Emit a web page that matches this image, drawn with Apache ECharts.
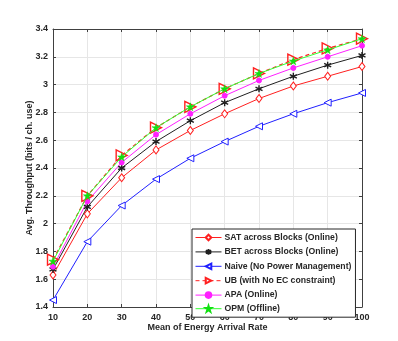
<!DOCTYPE html>
<html>
<head>
<meta charset="utf-8">
<script src="https://cdn.jsdelivr.net/npm/echarts@6/dist/echarts.min.js"></script>
<style>
  html, body { margin: 0; padding: 0; background: #fff; }
  #chart { width: 398px; height: 341px; }
</style>
</head>
<body>
<div id="chart"></div>
<script>
const rates = [10, 20, 30, 40, 50, 60, 70, 80, 90, 100];

const satValues = [1.63, 2.07, 2.33, 2.53, 2.67, 2.79, 2.90, 2.99, 3.06, 3.13];
const betValues = [1.67, 2.12, 2.40, 2.59, 2.74, 2.87, 2.97, 3.06, 3.14, 3.21];
const naiveValues = [1.45, 1.87, 2.13, 2.32, 2.47, 2.59, 2.70, 2.79, 2.87, 2.94];
const ubValues = [1.74, 2.20, 2.49, 2.69, 2.84, 2.97, 3.08, 3.18, 3.26, 3.33];
const apaValues = [1.69, 2.16, 2.44, 2.64, 2.79, 2.92, 3.03, 3.12, 3.20, 3.28];
const opmValues = [1.73, 2.20, 2.48, 2.69, 2.84, 2.97, 3.08, 3.17, 3.25, 3.33];

const seriesNames = [
    "SAT across Blocks (Online)",
    "BET across Blocks (Online)",
    "Naive (No Power Management)",
    "UB (with No EC constraint)",
    "APA (Online)",
    "OPM (Offline)",
];

const FONT = "'Liberation Sans', Arial, sans-serif";
const AXIS_COLOR = "#404040";

const ASTERISK = "path://M5,0L5,10M0.7,2.5L9.3,7.5M0.7,7.5L9.3,2.5";
const STAR = "path://M5,0L6.2,3.6L10,3.6L6.9,5.8L8.1,9.5L5,7.2L1.9,9.5L3.1,5.8L0,3.6L3.8,3.6Z";

function pairs(values) {
    return values.map((v, i) => [rates[i], v]);
}

function makeSeries(name, values, color, opts) {
    return Object.assign({
        name,
        type: "line",
        data: pairs(values),
        lineStyle: { color, width: 1 },
        itemStyle: { color: "#fff", borderColor: color, borderWidth: 1 },
        showAllSymbol: true,
        animation: false,
        z: 3,
    }, opts);
}

const series = [
    makeSeries(seriesNames[0], satValues, "#ff2020", {
        symbol: "diamond", symbolSize: [6, 8],
    }),
    makeSeries(seriesNames[1], betValues, "#202020", {
        symbol: ASTERISK, symbolSize: 7,
        itemStyle: { color: "none", borderColor: "#202020", borderWidth: 1.4 },
    }),
    makeSeries(seriesNames[2], naiveValues, "#2020ff", {
        symbol: "triangle", symbolRotate: 90, symbolSize: 7,
    }),
    makeSeries(seriesNames[3], ubValues, "#ff2020", {
        symbol: "triangle", symbolRotate: -90, symbolSize: 11,
        lineStyle: { color: "#ff2020", width: 1.2, type: [4, 3] },
        itemStyle: { color: "none", borderColor: "#ff2020", borderWidth: 1.4 },
        z: 4,
    }),
    makeSeries(seriesNames[4], apaValues, "#ff20ff", {
        symbol: "circle", symbolSize: 5,
        itemStyle: { color: "#ff20ff", borderColor: "#ff20ff", borderWidth: 1 },
    }),
    makeSeries(seriesNames[5], opmValues, "#30ff30", {
        symbol: STAR, symbolSize: 8,
        itemStyle: { color: "#10e010", borderColor: "#10e010", borderWidth: 0.5 },
        z: 5,
    }),
];

const chart = echarts.init(document.getElementById("chart"));

const tickLabel = { color: "#262626", fontSize: 9, fontFamily: FONT, fontWeight: "bold" };

chart.setOption({
    backgroundColor: "#fff",
    animation: false,
    grid: { left: 53, right: 36, top: 29, bottom: 34 },
    legend: {
        data: seriesNames,
        orient: "vertical",
        left: 192,
        top: 229,
        itemWidth: 26,
        itemHeight: 7,
        itemGap: 4.6,
        padding: [4, 4, 4, 3],
        backgroundColor: "#fff",
        borderColor: "#262626",
        borderWidth: 1,
        borderRadius: 0,
        lineStyle: { width: 1 },
        textStyle: { color: "#262626", fontSize: 8.7, fontFamily: FONT, fontWeight: "bold", padding: [0, 0, 0, -2] },
    },
    xAxis: [
        {
            type: "value",
            min: 10,
            max: 100,
            interval: 10,
            name: "Mean of Energy Arrival Rate",
            nameLocation: "middle",
            nameGap: 16,
            nameMoveOverlap: false,
            nameTextStyle: { color: "#262626", fontSize: 9, fontFamily: FONT, fontWeight: "bold" },
            axisLine: { show: true, lineStyle: { color: AXIS_COLOR, width: 1 } },
            axisTick: { show: true, inside: true, length: 3, lineStyle: { color: AXIS_COLOR } },
            axisLabel: Object.assign({ margin: 6 }, tickLabel),
            splitLine: { show: true, lineStyle: { color: "#e6e6e6", width: 1 } },
        },
        {
            type: "value",
            position: "top",
            min: 10,
            max: 100,
            interval: 10,
            axisLine: { show: true, lineStyle: { color: AXIS_COLOR, width: 1 } },
            axisTick: { show: true, inside: true, length: 3, lineStyle: { color: AXIS_COLOR } },
            axisLabel: { show: false },
            splitLine: { show: false },
        },
    ],
    yAxis: [
        {
            type: "value",
            min: 1.4,
            max: 3.4,
            interval: 0.2,
            name: "Avg. Throughput (bits / ch. use)",
            nameLocation: "middle",
            nameGap: 19,
            nameMoveOverlap: false,
            nameTextStyle: { color: "#262626", fontSize: 9, fontFamily: FONT, fontWeight: "bold" },
            axisLine: { show: true, lineStyle: { color: AXIS_COLOR, width: 1 } },
            axisTick: { show: true, inside: true, length: 3, lineStyle: { color: AXIS_COLOR } },
            axisLabel: Object.assign({
                margin: 5,
                formatter: (v) => String(Math.round(v * 10) / 10),
            }, tickLabel),
            splitLine: { show: true, lineStyle: { color: "#e6e6e6", width: 1 } },
        },
        {
            type: "value",
            position: "right",
            min: 1.4,
            max: 3.4,
            interval: 0.2,
            axisLine: { show: true, lineStyle: { color: AXIS_COLOR, width: 1 } },
            axisTick: { show: true, inside: true, length: 3, lineStyle: { color: AXIS_COLOR } },
            axisLabel: { show: false },
            splitLine: { show: false },
        },
    ],
    series,
});
</script>
</body>
</html>
